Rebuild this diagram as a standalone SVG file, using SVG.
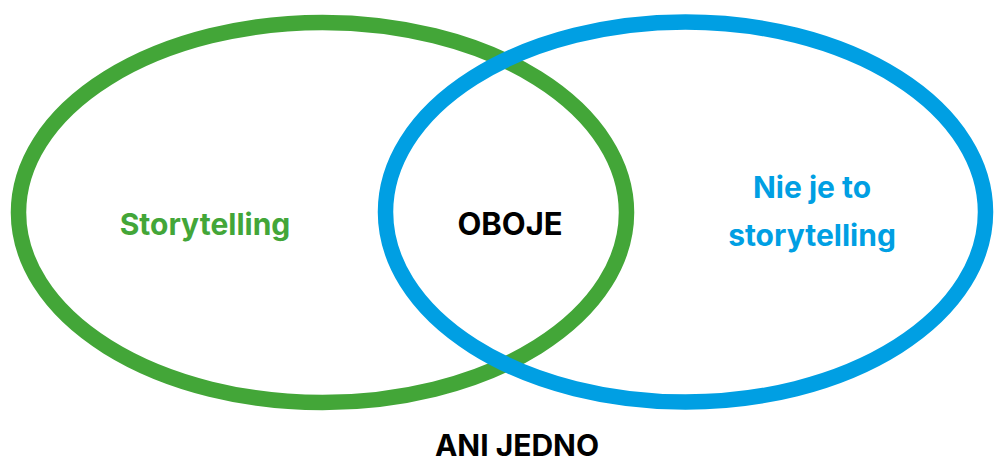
<svg xmlns="http://www.w3.org/2000/svg" width="996" height="462" viewBox="0 0 996 462">
<style>
.ring{fill:none;stroke-width:15.5}
.t{font-family:Inter,"Noto Sans",sans-serif;font-weight:bold;font-size:30px;text-anchor:middle}
.c{font-size:31px}
</style>
<rect width="996" height="462" fill="#ffffff"/>
<g id="green-set">
<ellipse class="ring" cx="322.5" cy="212.5" rx="304" ry="190" stroke="#43A638"/>
<text class="t" x="205" y="235" fill="#43A638">Storytelling</text>
</g>
<g id="blue-set">
<ellipse class="ring" cx="685.5" cy="212" rx="300" ry="190" stroke="#009FE3"/>
<text class="t" x="812" y="198" fill="#009FE3">Nie je to</text>
<text class="t" x="812" y="246" fill="#009FE3">storytelling</text>
</g>
<g id="both">
<text class="t c" x="510" y="235" fill="#000000">OBOJE</text>
</g>
<g id="neither">
<text class="t" x="517" y="456" fill="#000000">ANI JEDNO</text>
</g>
<g id="connectors"></g>
</svg>
